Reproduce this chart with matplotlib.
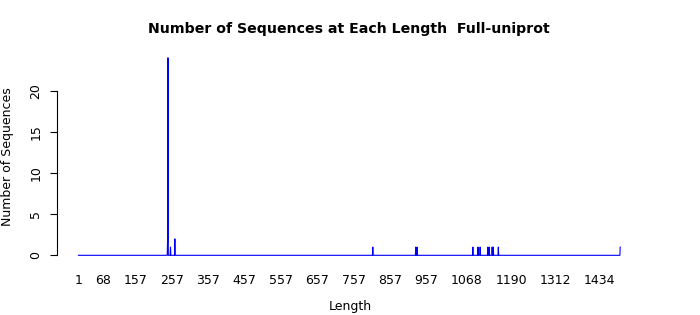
import numpy as np
import matplotlib
matplotlib.use("Agg")
import matplotlib.pyplot as plt

# lengths that occur, and how many sequences have each one
seq_lengths = [246, 247, 254, 266, 810, 928, 932, 1085, 1099, 1105, 1126, 1130, 1138, 1141, 1155, 1490]
seq_counts = [2, 24, 1, 2, 1, 1, 1, 1, 1, 1, 1, 1, 1, 1, 1, 1]
min_len = 1
x_tick_labels = [1, 68, 157, 257, 357, 457, 557, 657, 757, 857, 957, 1068, 1190, 1312, 1434]
y_ticks = [0, 5, 10, 15, 20]

lengths = np.arange(min_len, max(seq_lengths) + 1)
counts = np.zeros(len(lengths))
for l, c in zip(seq_lengths, seq_counts):
    counts[l - min_len] = c

fig = plt.figure(figsize=(7, 3.15), dpi=100)
ax = fig.add_axes([0.0811, 0.1644, 0.917 - 0.0811, 0.8416 - 0.1644])

ax.plot(lengths, counts, color="#0000ff", linewidth=0.8)

xr = lengths[-1] - lengths[0]
ax.set_xlim(lengths[0] - 0.04 * xr, lengths[-1] + 0.04 * xr)
ax.set_ylim(-0.04 * max(seq_counts), 1.04 * max(seq_counts))

for s in ["top", "right", "bottom"]:
    ax.spines[s].set_visible(False)
ax.spines["left"].set_bounds(0, 20)
ax.spines["left"].set_linewidth(0.8)

ax.set_xticks(x_tick_labels)
ax.set_xticklabels([str(t) for t in x_tick_labels])
ax.tick_params(axis="x", length=0, pad=7.5, labelsize=9)
ax.set_yticks(y_ticks)
ax.set_yticklabels([str(t) for t in y_ticks], rotation=90, va="center")
ax.tick_params(axis="y", length=5, width=0.8, pad=5.5, labelsize=9)

ax.set_ylabel("Number of Sequences", fontsize=9, va="center")
ax.yaxis.set_label_coords(-0.085, 0.5)
ax.set_xlabel("Length", fontsize=9, va="center")
ax.xaxis.set_label_coords(0.501, -0.205)
ax.set_title("Number of Sequences at Each Length  Full-uniprot", fontsize=10.2,
             fontweight="bold", y=1.098, va="center", pad=0)

fig.savefig("out.png", dpi=100)
